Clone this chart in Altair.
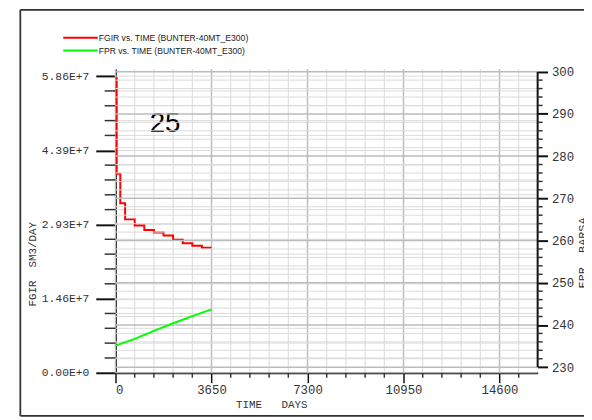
import altair as alt
import pandas as pd

# ---------------- data ----------------
fgir_days = [0, 45, 182, 365, 730, 1095, 1460, 1825, 2190, 2555, 2920, 3285, 3650]
fgir_vals = [5.82e7, 3.93e7, 3.35e7, 3.03e7, 2.91e7, 2.82e7, 2.77e7, 2.71e7,
             2.63e7, 2.56e7, 2.51e7, 2.47e7, 2.47e7]

fpr_days = [0, 730, 1460, 2190, 2920, 3650]
fpr_vals = [235.1, 236.7, 238.6, 240.4, 242.1, 243.7]

x_major = [0, 3650, 7300, 10950, 14600]
x_minor = [730, 1460, 2190, 2920, 4380, 5110, 5840, 6570, 8030, 8760, 9490,
           10220, 11680, 12410, 13140, 13870, 15330]

yl_major = [0, 1.46e7, 2.93e7, 4.39e7, 5.86e7]
yl_minor = [2.93e6, 5.86e6, 8.79e6, 1.172e7, 1.758e7, 2.051e7, 2.344e7, 2.637e7,
            3.223e7, 3.516e7, 3.809e7, 4.102e7, 4.688e7, 4.981e7, 5.274e7, 5.567e7]

yr_major = [230, 240, 250, 260, 270, 280, 290, 300]
yr_minor = [232, 234, 236, 238, 242, 244, 246, 248, 252, 254, 256, 258, 262, 264,
            266, 268, 272, 274, 276, 278, 282, 284, 286, 288, 292, 294, 296, 298]

legend_labels = ["FGIR vs. TIME (BUNTER-40MT_E300)", "FPR vs. TIME (BUNTER-40MT_E300)"]

# ---------------- layout ----------------
W, H = 428, 308
MONO = "Liberation Mono"
INK = "#222222"

xscale = alt.Scale(domain=[0, 16050], nice=False, zero=False)
ylscale = alt.Scale(domain=[0, 6.0e7], nice=False, zero=False)
yrscale = alt.Scale(domain=[228.67, 300.63], nice=False, zero=False)

xaxis = alt.Axis(values=x_major, format="d", title=None, grid=False,
                 tickSize=10, tickWidth=1.5, tickColor="#111111",
                 domainColor="#111111", domainWidth=2,
                 labelFont=MONO, labelFontSize=12.5, labelColor="#333333",
                 labelPadding=1, labelOverlap=False)
ylaxis = alt.Axis(orient="left", values=yl_major,
                  labelExpr="replace(format(datum.value, '.2e'), 'e', 'E')",
                  title=None, grid=False, tickSize=20, tickWidth=2,
                  tickColor="#111111", domainColor="#111111", domainWidth=2,
                  labelFont=MONO, labelFontSize=11.5, labelColor="#333333",
                  labelPadding=7, labelOverlap=False)
yraxis = alt.Axis(orient="right", values=yr_major, format="d", title=None,
                  grid=False, domain=False, tickSize=10, tickWidth=2,
                  tickColor="#111111", labelFont=MONO, labelFontSize=12.5,
                  labelColor="#333333", labelPadding=4, labelOverlap=False)


def X(f):
    return alt.X(f, type="quantitative", scale=xscale, axis=xaxis)


def YL(f):
    return alt.Y(f, type="quantitative", scale=ylscale, axis=ylaxis)


def YR(f):
    return alt.Y(f, type="quantitative", scale=yrscale, axis=yraxis)


df_fgir = pd.DataFrame({"day": fgir_days, "v": fgir_vals})
df_fpr = pd.DataFrame({"day": fpr_days, "v": fpr_vals})
df_xgrid = pd.DataFrame({"day": x_major + x_minor,
                         "kind": ["major"] * len(x_major) + ["minor"] * len(x_minor)})
df_xminor = pd.DataFrame({"day": x_minor})
df_ylgrid = pd.DataFrame({"v": yl_major + yl_minor})
df_ylminor = pd.DataFrame({"v": yl_minor})
df_yrgrid = pd.DataFrame({"v": yr_major + yr_minor,
                          "kind": ["major"] * len(yr_major) + ["minor"] * len(yr_minor)})
df_yrminor = pd.DataFrame({"v": yr_minor})
df_yrdom = pd.DataFrame({"top": [max(yr_major)], "bot": [min(yr_major)]})
one = pd.DataFrame({"a": [0]})

# ---------------- left-scale group ----------------
vgrid = alt.Chart(df_xgrid).mark_rule().encode(
    x=X("day"), y=alt.value(0), y2=alt.value(H),
    color=alt.Color("kind:N", scale=alt.Scale(domain=["major", "minor"],
                                              range=["#bcbcbc", "#d9d9d9"]), legend=None),
    strokeWidth=alt.StrokeWidth("kind:N", scale=alt.Scale(domain=["major", "minor"],
                                                          range=[1.5, 1]), legend=None),
)
hgrid_l = alt.Chart(df_ylgrid).mark_rule(color="#dadada", strokeWidth=1).encode(
    y=YL("v"), x=alt.value(0), x2=alt.value(W))

fgir_line = alt.Chart(df_fgir).mark_line(color="#ff0000", strokeWidth=2,
                                         interpolate="step-after").encode(
    x=X("day"), y=YL("v"))

yl_minor_ticks = alt.Chart(df_ylminor).mark_rule(color="#333333", strokeWidth=1.5).encode(
    y=YL("v"), x=alt.value(-11), x2=alt.value(0))
x_minor_ticks = alt.Chart(df_xminor).mark_rule(color="#333333", strokeWidth=1.5).encode(
    x=X("day"), y=alt.value(H), y2=alt.value(H + 5))

# frame and texts (pixel-placed decorations)
base = alt.Chart(one)
frame = alt.layer(
    base.mark_rule(color="#333333", strokeWidth=1.8).encode(
        x=alt.value(-96.5), y=alt.value(-60), y2=alt.value(351.7)),
    base.mark_rule(color="#333333", strokeWidth=1.8).encode(
        x=alt.value(-96.5), x2=alt.value(490), y=alt.value(-60)),
    base.mark_rule(color="#333333", strokeWidth=1.8).encode(
        x=alt.value(-96.5), x2=alt.value(490), y=alt.value(351.7)),
)
legend = alt.layer(
    base.mark_rule(color="#ff0000", strokeWidth=2).encode(
        x=alt.value(-53), x2=alt.value(-18), y=alt.value(-31.7)),
    base.mark_rule(color="#00ff00", strokeWidth=2).encode(
        x=alt.value(-53), x2=alt.value(-18), y=alt.value(-18.7)),
    base.mark_text(text=legend_labels[0], font="Liberation Sans", fontSize=8.7,
                   align="left", baseline="middle", color=INK).encode(
        x=alt.value(-17), y=alt.value(-31.5)),
    base.mark_text(text=legend_labels[1], font="Liberation Sans", fontSize=8.7,
                   align="left", baseline="middle", color=INK).encode(
        x=alt.value(-17), y=alt.value(-18.5)),
)
texts = alt.layer(
    base.mark_text(text="25", font="Liberation Sans", fontSize=28, align="left",
                   baseline="alphabetic", color="#000000").encode(
        x=alt.value(34.7), y=alt.value(63.7)),
    base.mark_text(text="TIME\u00a0\u00a0\u00a0DAYS", font=MONO, fontSize=11,
                   align="center", baseline="alphabetic", color="#333333").encode(
        x=alt.value(158.3), y=alt.value(344)),
    base.mark_text(text="FGIR\u00a0\u00a0SM3/DAY", font=MONO, fontSize=11, angle=270,
                   align="center", baseline="alphabetic", color="#333333").encode(
        x=alt.value(-81), y=alt.value(198)),
    base.mark_text(text="FPR\u00a0\u00a0BARSA", font=MONO, fontSize=12, angle=270,
                   align="center", baseline="alphabetic", color="#333333").encode(
        x=alt.value(477), y=alt.value(186.5)),
)

left_group = alt.layer(vgrid, hgrid_l, frame, legend, texts, fgir_line,
                       yl_minor_ticks, x_minor_ticks)

# ---------------- right-scale group ----------------
hgrid_r = alt.Chart(df_yrgrid).mark_rule().encode(
    y=YR("v"), x=alt.value(0), x2=alt.value(W),
    color=alt.Color("kind:N", scale=alt.Scale(domain=["major", "minor"],
                                              range=["#bcbcbc", "#dadada"]), legend=None),
    strokeWidth=alt.StrokeWidth("kind:N", scale=alt.Scale(domain=["major", "minor"],
                                                          range=[1.5, 1]), legend=None),
)
fpr_line = alt.Chart(df_fpr).mark_line(color="#00ff00", strokeWidth=2).encode(
    x=X("day"), y=YR("v"))
yr_domain = alt.Chart(df_yrdom).mark_rule(color="#111111", strokeWidth=2).encode(
    y=YR("top"), y2=alt.Y2("bot"), x=alt.value(W))
yr_minor_ticks = alt.Chart(df_yrminor).mark_rule(color="#333333", strokeWidth=1.5).encode(
    y=YR("v"), x=alt.value(W), x2=alt.value(W + 5))

right_group = alt.layer(hgrid_r, fpr_line, yr_domain, yr_minor_ticks)

chart = alt.layer(left_group, right_group).resolve_scale(
    y="independent", color="independent", strokeWidth="independent"
).properties(
    width=W, height=H,
    autosize=alt.AutoSizeParams(type="none"),
    padding={"left": 109, "top": 59, "right": 47, "bottom": 45},
    background="white",
).configure_view(strokeWidth=0)

chart.save("out.html", embed_options={"renderer": "svg", "actions": False})
